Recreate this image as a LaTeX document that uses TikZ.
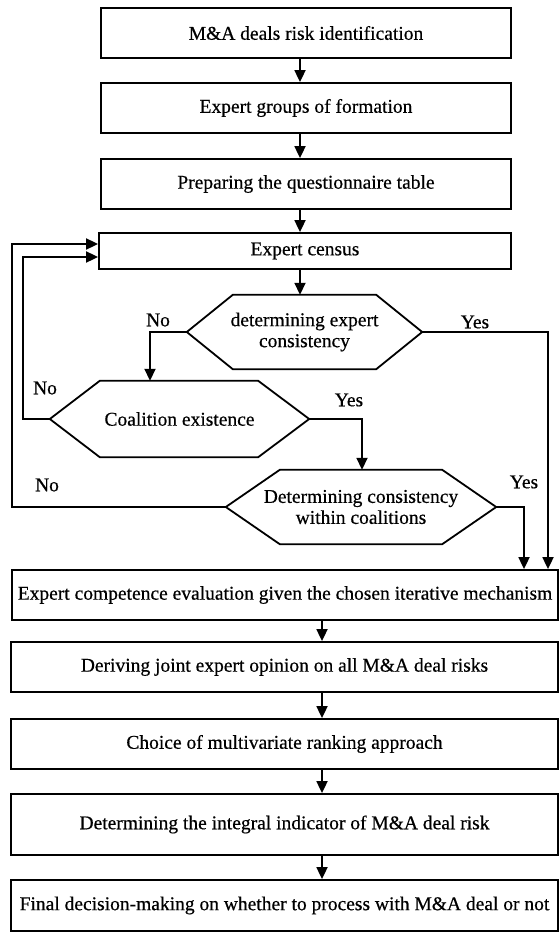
\documentclass[tikz,border=0pt]{standalone}
\usepackage{fontspec}
\setmainfont[FakeBold=0.5]{Liberation Serif}
\usetikzlibrary{arrows.meta,calc}
\tikzset{
  every node/.style={font=\fontsize{19.5}{21}\selectfont, inner sep=0pt},
  box/.style={draw, line width=1.8pt, minimum height=50pt, align=center},
  hexbox/.style={minimum width=#1, align=center},
  hexline/.style={line width=1.8pt, line join=miter},
  arr/.style={line width=1.8pt, -{Triangle[length=12pt,width=11pt]}},
  lab/.style={}
}
\begin{document}
\begin{tikzpicture}[x=1pt,y=1pt]
\useasboundingbox (0,0) rectangle (559,-933);
% top boxes
\node[box, minimum width=410pt] (b1) at (306,-33) {M\&A deals risk identification};
\node[box, minimum width=410pt] (b2) at (306,-108) {Expert groups of formation};
\node[box, minimum width=410pt] (b3) at (306,-184) {Preparing the questionnaire table};
\node[box, minimum width=412pt, minimum height=36pt] (c) at (305,-251) {Expert census};
% hexagons
\node[hexbox=235pt, minimum height=74pt] (h1) at (304.5,-332) {determining expert\\consistency};
\draw[hexline] (h1.west) -- ([xshift=46pt]h1.north west) -- ([xshift=-46pt]h1.north east) -- (h1.east)
  -- ([xshift=-46pt]h1.south east) -- ([xshift=46pt]h1.south west) -- cycle;
\node[hexbox=259pt, minimum height=76pt] (h2) at (179.5,-419) {Coalition existence};
\draw[hexline] (h2.west) -- ([xshift=50pt]h2.north west) -- ([xshift=-51pt]h2.north east) -- (h2.east)
  -- ([xshift=-51pt]h2.south east) -- ([xshift=50pt]h2.south west) -- cycle;
\node[hexbox=270pt, minimum height=74pt] (h3) at (361,-507) {Determining consistency\\within coalitions};
\draw[hexline] (h3.west) -- ([xshift=54pt]h3.north west) -- ([xshift=-54pt]h3.north east) -- (h3.east)
  -- ([xshift=-54pt]h3.south east) -- ([xshift=54pt]h3.south west) -- cycle;
% bottom boxes
\node[box, minimum width=546pt] (e1) at (285,-595) {Expert competence evaluation given the chosen iterative mechanism};
\node[box, minimum width=547pt] (e2) at (284.5,-667) {Deriving joint expert opinion on all M\&A deal risks};
\node[box, minimum width=547pt] (e3) at (284.5,-744) {Choice of multivariate ranking approach};
\node[box, minimum width=547pt, minimum height=61pt] (e4) at (284.5,-824.5) {Determining the integral indicator of M\&A deal risk};
\node[box, minimum width=547pt, minimum height=51pt] (e5) at (284.5,-905.5) {Final decision-making on whether to process with M\&A deal or not};
% labels
\node[lab] (no1) at (158,-320) {No};
\node[lab] (yes1) at (475,-322) {Yes};
\node[lab] (no2) at (45,-388) {No};
\node[lab] (yes2) at (349,-400) {Yes};
\node[lab] (no3) at (47,-485) {No};
\node[lab] (yes3) at (524,-482) {Yes};
% helper coordinates
\coordinate (ax) at (300,0);
\coordinate (bx) at (322,0);
\coordinate (dl) at (150,0);
\coordinate (r1) at (548,-332);
\coordinate (l2) at (23,-419);
\coordinate (l3) at (12,-507);
\coordinate (r3) at (524,-507);
% connectors
\draw[arr] (b1.south -| ax) -- (b2.north -| ax);
\draw[arr] (b2.south -| ax) -- (b3.north -| ax);
\draw[arr] (b3.south -| ax) -- (c.north -| ax);
\draw[arr] (c.south -| ax) -- (h1.north -| ax);
\draw[arr] (h1.west) -| (h2.north -| dl);
\draw[arr] (h1.east) -- (r1) -- (r1 |- e1.north);
\draw[arr] (h2.west) -- (l2) |- ([yshift=-6pt]c.west);
\draw[arr] (h2.east) -| ([xshift=1pt]h3.north);
\draw[arr] (h3.west) -- (l3) |- ([yshift=7pt]c.west);
\draw[arr] (h3.east) -- (r3) -- (r3 |- e1.north);
\draw[arr] (e1.south -| bx) -- (e2.north -| bx);
\draw[arr] (e2.south -| bx) -- (e3.north -| bx);
\draw[arr] (e3.south -| bx) -- (e4.north -| bx);
\draw[arr] (e4.south -| bx) -- (e5.north -| bx);
\end{tikzpicture}
\end{document}
